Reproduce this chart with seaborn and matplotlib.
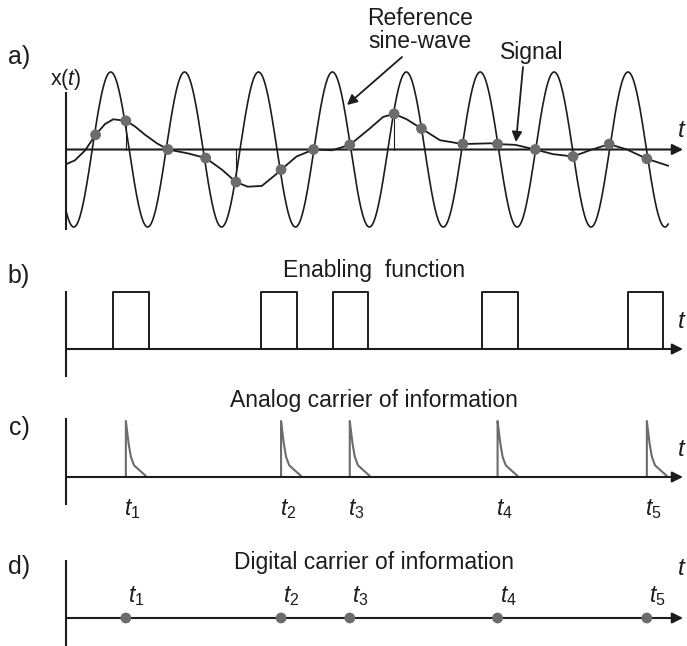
import numpy as np
import pandas as pd
import matplotlib
matplotlib.use("Agg")
import matplotlib.pyplot as plt
import seaborn as sns

# ---------------- data (time in periods of the reference sine-wave) ----------------
sine_period = 1.0
sine_first_trough = 0.105
sine_t_end = 8.15

signal_t = [0.00, 0.12, 0.26, 0.40, 0.53, 0.64, 0.81, 0.93, 1.07, 1.23, 1.38, 1.65,
            1.89, 2.11, 2.30, 2.46, 2.65, 2.83, 2.91, 3.12, 3.35, 3.60, 3.84, 4.11,
            4.29, 4.44, 4.61, 4.81, 5.06, 5.37, 5.74, 5.84, 6.08, 6.35, 6.59, 6.86,
            7.09, 7.35, 7.59, 7.86, 8.15]
signal_y = [-0.19, -0.14, -0.01, 0.19, 0.33, 0.39, 0.37, 0.30, 0.19, 0.08, 0.00, -0.05,
            -0.11, -0.26, -0.42, -0.48, -0.47, -0.33, -0.26, -0.09, 0.00, -0.01, 0.06, 0.27,
            0.42, 0.46, 0.39, 0.27, 0.12, 0.07, 0.08, 0.07, 0.06, 0.00, -0.06, -0.09,
            -0.01, 0.07, 0.00, -0.12, -0.21]

cross_t = [0.40, 0.81, 1.38, 1.89, 2.30, 2.91, 3.35, 3.84, 4.44, 4.81, 5.37, 5.84,
           6.35, 6.86, 7.35, 7.86]
cross_y = [0.19, 0.37, 0.00, -0.11, -0.42, -0.26, 0.00, 0.06, 0.46, 0.27, 0.07, 0.07,
           0.00, -0.09, 0.07, -0.12]
marked_t = [0.81, 2.30, 4.44]
marked_y = [0.37, -0.42, 0.46]

enable_start = [0.64, 2.64, 3.61, 5.63, 7.60]
enable_end = [1.12, 3.13, 4.09, 6.12, 8.08]

event_t = [0.81, 2.91, 3.84, 5.84, 7.86]
event_labels = ["$t_1$", "$t_2$", "$t_3$", "$t_4$", "$t_5$"]

decay_dt = [0.0, 0.01, 0.037, 0.068, 0.11, 0.18, 0.27]
decay_h = [1.0, 0.89, 0.60, 0.36, 0.21, 0.125, 0.02]

panel_letters = ["a)", "b)", "c)", "d)"]
titles = ["Enabling  function", "Analog carrier of information", "Digital carrier of information"]

# ---------------- style ----------------
sns.set_theme(style="white")
plt.rcParams["font.family"] = ["Liberation Sans", "DejaVu Sans"]
plt.rcParams["mathtext.fontset"] = "custom"
plt.rcParams["mathtext.it"] = "Liberation Sans:italic"
plt.rcParams["mathtext.rm"] = "Liberation Sans"
plt.rcParams["mathtext.default"] = "it"

W, H, DPI = 687, 646, 100
PX0, PX_PER_T = 66.0, 73.9
INK = "#1c1c1c"
GREY = "#6c6c6c"
FS = 16.5

fig = plt.figure(figsize=(W / DPI, H / DPI), dpi=DPI)
fig.patch.set_facecolor("white")


def make_axes(top, bottom, base, unit):
    ax = fig.add_axes([0, 1 - bottom / H, 1, (bottom - top) / H])
    ax.set_xlim(-PX0 / PX_PER_T, (W - PX0) / PX_PER_T)
    ax.set_ylim((base - bottom) / unit, (base - top) / unit)
    ax.axis("off")
    return ax


def draw_axes(ax, ytop, ybot):
    t_end = (683 - PX0) / PX_PER_T
    ax.plot([0, 0], [ybot, ytop], color=INK, lw=1.5, solid_capstyle="butt", zorder=3)
    ax.annotate("", xy=(t_end, 0), xytext=(0, 0),
                arrowprops=dict(arrowstyle="-|>", color=INK, lw=1.5,
                                mutation_scale=16, shrinkA=0, shrinkB=0), zorder=3)


def ftext(x, y, s, **kw):
    fig.text(x / W, 1 - y / H, s, **kw)


# ---------------- panel a ----------------
axa = make_axes(0, 250, 149.5, 77.5)
tt = np.linspace(0, sine_t_end, 1200)
sine_df = pd.DataFrame({"t": tt,
                        "x": -np.cos(2 * np.pi * (tt - sine_first_trough) / sine_period)})
sns.lineplot(data=sine_df, x="t", y="x", ax=axa, color=INK, lw=1.2, sort=False, zorder=2)
sig_df = pd.DataFrame({"t": signal_t, "x": signal_y})
sns.lineplot(data=sig_df, x="t", y="x", ax=axa, color=INK, lw=1.3, sort=False, zorder=2)
for mt, my in zip(marked_t, marked_y):
    axa.plot([mt, mt], [0, my], color=INK, lw=0.8, zorder=2)
draw_axes(axa, (149.5 - 92) / 77.5, (149.5 - 230) / 77.5)
cross_df = pd.DataFrame({"t": cross_t, "x": cross_y})
sns.scatterplot(data=cross_df, x="t", y="x", ax=axa, color=GREY, s=60,
                edgecolor="none", zorder=5)
axa.axis("off")

# ---------------- panel b ----------------
axb = make_axes(250, 390, 349, 57)
rows = []
for i, (s, e) in enumerate(zip(enable_start, enable_end)):
    for t, v in [(s, 0), (s, 1), (e, 1), (e, 0)]:
        rows.append({"pulse": i, "t": t, "v": v})
pulse_df = pd.DataFrame(rows)
sns.lineplot(data=pulse_df, x="t", y="v", units="pulse", estimator=None, sort=False,
             ax=axb, color=INK, lw=1.4)
draw_axes(axb, (349 - 291) / 57, (349 - 377) / 57)
axb.axis("off")

# ---------------- panel c ----------------
axc = make_axes(390, 520, 477, 56)
rows = []
for i, t0 in enumerate(event_t):
    rows.append({"ev": i, "t": t0, "v": 0.0})
    for dt, h in zip(decay_dt, decay_h):
        rows.append({"ev": i, "t": t0 + dt, "v": h})
spike_df = pd.DataFrame(rows)
sns.lineplot(data=spike_df, x="t", y="v", units="ev", estimator=None, sort=False,
             ax=axc, color=GREY, lw=1.5)
draw_axes(axc, (477 - 418) / 56, (477 - 505) / 56)
for t0, lab in zip(event_t, event_labels):
    axc.text(t0 - 0.02, (477 - 509) / 56, lab, ha="left", va="center",
             fontsize=FS, color=INK)
axc.axis("off")

# ---------------- panel d ----------------
axd = make_axes(520, 646, 618, 50)
draw_axes(axd, (618 - 560) / 50, (618 - 646) / 50)
dig_df = pd.DataFrame({"t": event_t, "v": [0.0] * len(event_t)})
sns.scatterplot(data=dig_df, x="t", y="v", ax=axd, color=GREY, s=60,
                edgecolor="none", zorder=5)
for t0, lab in zip(event_t, event_labels):
    axd.text(t0 + 0.03, (618 - 596) / 50, lab, ha="left", va="center",
             fontsize=FS, color=INK)
axd.axis("off")

# ---------------- texts ----------------
for lab, y in zip(panel_letters, [57, 276, 428, 567]):
    ftext(19, y, lab, ha="center", va="center", fontsize=18, color=INK)
for lab, y in zip(titles, [271, 400, 563]):
    ftext(374, y, lab, ha="center", va="center", fontsize=FS, color=INK)
for y in [131, 322, 450, 569]:
    ftext(677, y, "$t$", ha="left", va="center", fontsize=FS + 1, color=INK)
ftext(66, 79, "x($t$)", ha="center", va="center", fontsize=FS - 1, color=INK)
ftext(420, 30, "Reference\nsine-wave", ha="center", va="center", fontsize=FS,
      color=INK, linespacing=0.95)
ftext(532, 53, "Signal", ha="center", va="center", fontsize=FS, color=INK)

fig.add_artist(matplotlib.patches.FancyArrowPatch(
    (402 / W, 1 - 57 / H), (347 / W, 1 - 105 / H), transform=fig.transFigure,
    arrowstyle="-|>", mutation_scale=15, color=INK, lw=1.3, shrinkA=0, shrinkB=0))
fig.add_artist(matplotlib.patches.FancyArrowPatch(
    (523 / W, 1 - 67 / H), (516 / W, 1 - 142 / H), transform=fig.transFigure,
    arrowstyle="-|>", mutation_scale=15, color=INK, lw=1.3, shrinkA=0, shrinkB=0))

fig.savefig("out.png", dpi=DPI, facecolor="white")
